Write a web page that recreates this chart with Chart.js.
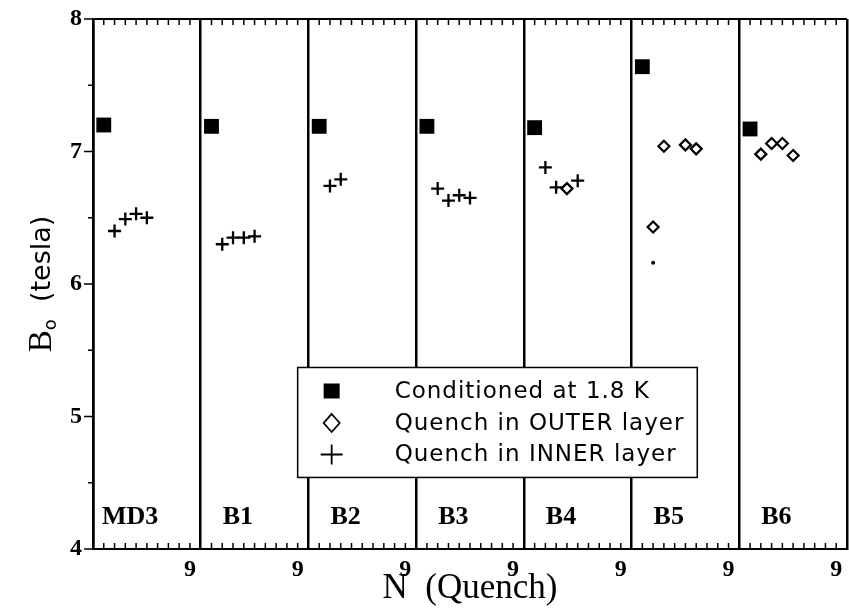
<!DOCTYPE html>
<html lang="en">
<head>
<meta charset="UTF-8">
<title>Quench history</title>
<script src="https://cdn.jsdelivr.net/npm/chart.js"></script>
<style>
  html, body { margin: 0; padding: 0; background: #fff; overflow: hidden; }
  canvas { display: block; }
</style>
</head>
<body>
<canvas id="quenchChart" width="849" height="615"></canvas>
<script>
// one panel of 10 quench numbers per magnet
const magnets = ['MD3', 'B1', 'B2', 'B3', 'B4', 'B5', 'B6'];
const panelWidth = 10;

// conditioned at 1.8 K (quench 1 of every magnet)
const condMagnet = [0, 1, 2, 3, 4, 5, 6];
const condN = [1, 1, 1, 1, 1, 1, 1];
const condB = [7.20, 7.19, 7.19, 7.19, 7.18, 7.64, 7.17];

// quench in OUTER layer
const outerMagnet = [4, 5, 5, 5, 5, 6, 6, 6, 6];
const outerN = [4, 2, 3, 5, 6, 2, 3, 4, 5];
const outerB = [6.72, 6.43, 7.04, 7.05, 7.02, 6.98, 7.06, 7.06, 6.97];

// quench in INNER layer
const innerMagnet = [0, 0, 0, 0, 1, 1, 1, 1, 2, 2, 3, 3, 3, 3, 4, 4, 4];
const innerN = [2, 3, 4, 5, 2, 3, 4, 5, 2, 3, 2, 3, 4, 5, 2, 3, 5];
const innerB = [6.40, 6.49, 6.53, 6.50, 6.30, 6.35, 6.35, 6.36, 6.74, 6.79,
                6.72, 6.63, 6.67, 6.65, 6.88, 6.73, 6.78];

// stray small dot in the B5 panel
const dotMagnet = [5];
const dotN = [2];
const dotB = [6.16];

const yTicks = [4, 5, 6, 7, 8];

function toPoints(mag, n, b) {
  return b.map((v, i) => ({ x: mag[i] * panelWidth + n[i], y: v }));
}

const clear = 'rgba(0,0,0,0)';

// tick marks, legend box, panel names, y title
const decor = {
  id: 'decor',
  beforeDatasetsDraw(chart) {
    const { ctx, chartArea: a, scales: { x, y } } = chart;
    ctx.save();
    ctx.strokeStyle = '#000';
    ctx.lineWidth = 1.5;
    ctx.beginPath();
    for (let v = 1; v < magnets.length * panelWidth; v++) {
      if (v % panelWidth === 0) continue;
      const px = x.getPixelForValue(v);
      ctx.moveTo(px, a.bottom); ctx.lineTo(px, a.bottom - 6);
      ctx.moveTo(px, a.top); ctx.lineTo(px, a.top + 6);
    }
    for (let v = yTicks[0]; v <= yTicks[yTicks.length - 1]; v += 0.5) {
      const py = y.getPixelForValue(v);
      ctx.moveTo(a.left, py);
      ctx.lineTo(a.left - (Number.isInteger(v) ? 9 : 5), py);
    }
    ctx.stroke();
    ctx.restore();
  },
  afterDatasetsDraw(chart) {
    const { ctx, chartArea: a, scales: { x, y } } = chart;
    ctx.save();

    // legend box
    const l = x.getPixelForValue(19.0), r = x.getPixelForValue(56.1);
    const t = y.getPixelForValue(5.37), b = y.getPixelForValue(4.54);
    ctx.fillStyle = '#fff';
    ctx.fillRect(l, t, r - l, b - t);
    ctx.strokeStyle = '#000';
    ctx.lineWidth = 1.5;
    ctx.strokeRect(l, t, r - l, b - t);

    const mx = l + 34, tx = l + 97;
    const rows = chart.data.datasets.filter(d => d.label);
    ctx.font = '23px "DejaVu Sans"';
    ctx.letterSpacing = '1px';
    ctx.textBaseline = 'middle';
    ctx.fillStyle = '#000';
    rows.forEach((d, i) => {
      const ry = t + 24 + i * 31.5;
      ctx.lineWidth = 1.8;
      if (d.pointStyle === 'rect') {
        ctx.fillRect(mx - 8, ry - 8, 16, 15);
      } else if (d.pointStyle === 'rectRot') {
        ctx.beginPath();
        ctx.moveTo(mx, ry - 9); ctx.lineTo(mx + 8, ry);
        ctx.lineTo(mx, ry + 9); ctx.lineTo(mx - 8, ry);
        ctx.closePath();
        ctx.stroke();
      } else {
        ctx.beginPath();
        ctx.moveTo(mx - 11, ry); ctx.lineTo(mx + 11, ry);
        ctx.moveTo(mx, ry - 10); ctx.lineTo(mx, ry + 10);
        ctx.stroke();
      }
      ctx.fillText(d.label, tx, ry + 1);
    });
    ctx.letterSpacing = '0px';

    // magnet names
    ctx.font = 'bold 26px "Liberation Serif"';
    ctx.textAlign = 'center';
    magnets.forEach((m, i) => {
      ctx.fillText(m, x.getPixelForValue(i * panelWidth + 3.45), y.getPixelForValue(4.24));
    });

    // y title  B_o (tesla)
    ctx.translate(40, (a.top + a.bottom) / 2);
    ctx.rotate(-Math.PI / 2);
    ctx.textAlign = 'left';
    ctx.textBaseline = 'alphabetic';
    const f1 = '33px "Liberation Serif"', f2 = '18px "DejaVu Sans"', f3 = '27px "DejaVu Sans"';
    ctx.font = f1; const w1 = ctx.measureText('B').width;
    ctx.font = f2; const w2 = ctx.measureText('o').width;
    ctx.font = f3; const w3 = ctx.measureText('  (tesla)').width;
    let sx = -(w1 + w2 + w3) / 2;
    ctx.font = f1; ctx.fillText('B', sx, 11); sx += w1;
    ctx.font = f2; ctx.fillText('o', sx, 16); sx += w2;
    ctx.font = f3; ctx.fillText('  (tesla)', sx, 10);
    ctx.restore();
  }
};

new Chart(document.getElementById('quenchChart'), {
  type: 'scatter',
  data: {
    datasets: [
      {
        label: 'Conditioned at 1.8 K',
        data: toPoints(condMagnet, condN, condB),
        pointStyle: 'rect', radius: 10.5, borderWidth: 0,
        backgroundColor: '#000', borderColor: '#000'
      },
      {
        label: 'Quench in OUTER layer',
        data: toPoints(outerMagnet, outerN, outerB),
        pointStyle: 'rectRot', radius: 5.5, borderWidth: 2.2,
        backgroundColor: '#fff', borderColor: '#000'
      },
      {
        label: 'Quench in INNER layer',
        data: toPoints(innerMagnet, innerN, innerB),
        pointStyle: 'cross', radius: 6.5, borderWidth: 2.3,
        backgroundColor: '#000', borderColor: '#000'
      },
      {
        label: '',
        data: toPoints(dotMagnet, dotN, dotB),
        pointStyle: 'circle', radius: 2, borderWidth: 0,
        backgroundColor: '#000'
      }
    ]
  },
  options: {
    responsive: false,
    animation: false,
    events: [],
    layout: { autoPadding: false, padding: { top: 19, right: 2, left: 0, bottom: 0 } },
    plugins: { legend: { display: false }, tooltip: { enabled: false } },
    scales: {
      x: {
        type: 'linear', min: 0, max: magnets.length * panelWidth,
        afterFit: s => { s.height = 66; s.paddingLeft = 0; s.paddingRight = 0; },
        border: { display: true, color: '#000', width: 2 },
        grid: {
          drawTicks: false,
          color: c => (c.tick && c.tick.value % panelWidth === 0) ? '#000' : clear,
          lineWidth: 2.5
        },
        ticks: {
          stepSize: 1, autoSkip: false, maxRotation: 0, padding: 6,
          color: '#000',
          font: { family: 'Liberation Serif', weight: 'bold', size: 24 },
          callback: v => (v % panelWidth === 9 ? '9' : '')
        },
        title: {
          display: true, text: 'N  (Quench)', color: '#000',
          font: { family: 'Liberation Serif', size: 35 },
          padding: { top: 0, bottom: 5 }
        }
      },
      y: {
        min: yTicks[0], max: yTicks[yTicks.length - 1],
        afterFit: s => { s.width = 93; s.paddingTop = 0; s.paddingBottom = 0; },
        border: { display: true, color: '#000', width: 2.5 },
        grid: {
          drawTicks: false,
          color: c => (c.tick && c.tick.value === yTicks[yTicks.length - 1]) ? '#000' : clear,
          lineWidth: 2
        },
        ticks: {
          stepSize: 1, padding: 11, color: '#000',
          font: { family: 'Liberation Serif', weight: 'bold', size: 24 }
        }
      }
    }
  },
  plugins: [decor]
});
</script>
</body>
</html>
